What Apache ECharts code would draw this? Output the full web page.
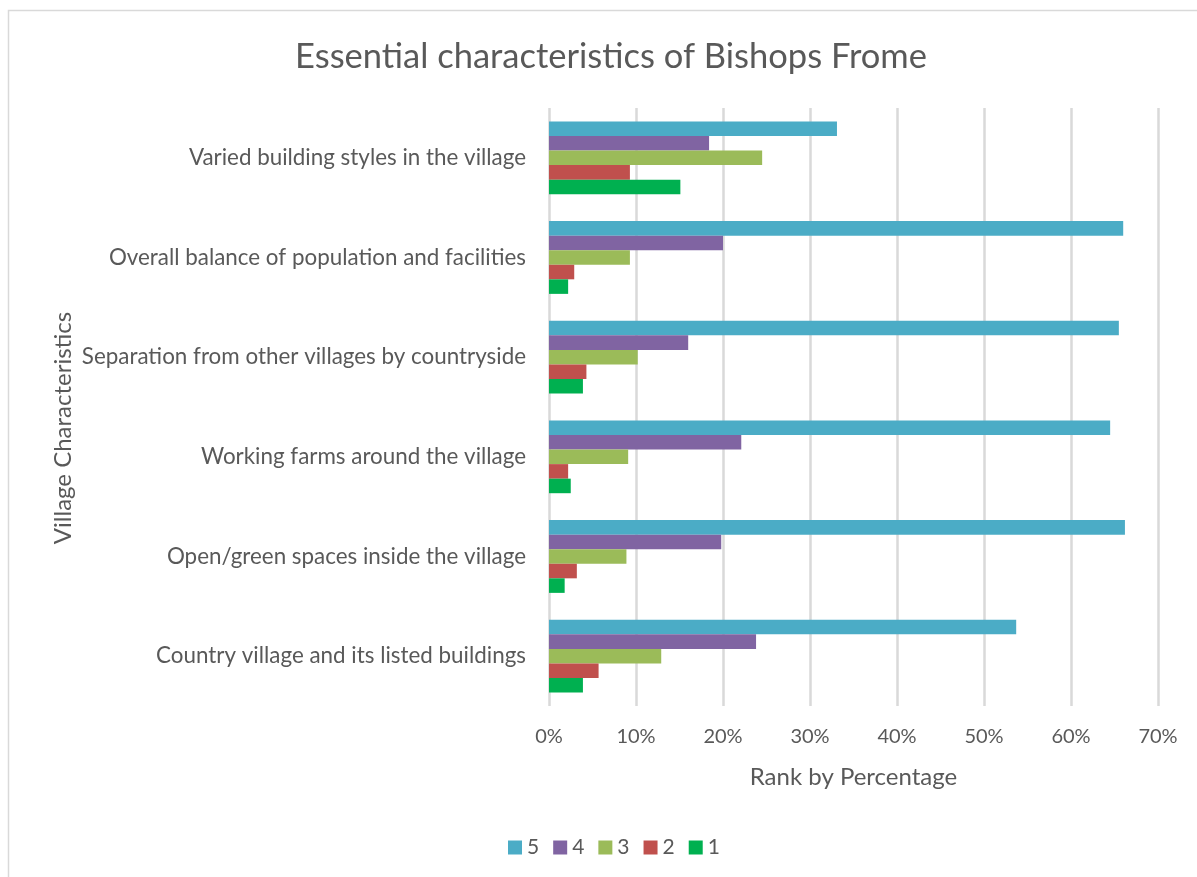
<!DOCTYPE html>
<html>
<head>
<meta charset="utf-8">
<title>Essential characteristics of Bishops Frome</title>
<script src="https://cdn.jsdelivr.net/npm/echarts@6/dist/echarts.min.js"></script>
<style>
  html, body { margin: 0; padding: 0; background: #ffffff; }
  #chart { width: 1197px; height: 877px; }
</style>
</head>
<body>
<div id="chart"></div>
<script>
// Village characteristics, listed bottom to top on the category axis
const categories = [
  'Country village and its listed buildings',
  'Open/green spaces inside the village',
  'Working farms around the village',
  'Separation from other villages by countryside',
  'Overall balance of population and facilities',
  'Varied building styles in the village'
];

// Share of responses (%) for each rank
const rank5 = [53.7, 66.2, 64.5, 65.5, 66.0, 33.1];
const rank4 = [23.8, 19.8, 22.1, 16.0, 20.0, 18.4];
const rank3 = [12.9, 8.9, 9.1, 10.2, 9.3, 24.5];
const rank2 = [5.7, 3.2, 2.2, 4.3, 2.9, 9.3];
const rank1 = [3.9, 1.8, 2.5, 3.9, 2.2, 15.1];

const legendOrder = ['5', '4', '3', '2', '1'];

const FONT = 'Lato, "Open Sans", "Noto Sans", sans-serif';
const TEXT = '#595959';

const chart = echarts.init(document.getElementById('chart'), null, { renderer: 'canvas' });

function rankSeries(name, data, color) {
  return {
    name: name,
    type: 'bar',
    data: data,
    barGap: '0%',
    barCategoryGap: '27%',
    itemStyle: { color: color },
    emphasis: { disabled: true }
  };
}

chart.setOption({
  animation: false,
  backgroundColor: '#ffffff',
  textStyle: { fontFamily: FONT, color: TEXT },
  title: {
    text: 'Essential characteristics of Bishops Frome',
    left: 606,
    textAlign: 'center',
    top: 34,
    textStyle: { fontFamily: FONT, fontSize: 34.5, fontWeight: 'normal', color: TEXT }
  },
  legend: {
    data: legendOrder,
    top: 832,
    left: 503,
    itemWidth: 14,
    itemHeight: 14,
    itemGap: 14,
    icon: 'rect',
    textStyle: { fontFamily: FONT, fontSize: 21, color: TEXT }
  },
  grid: { left: 549, right: 39, top: 108, bottom: 171, containLabel: false },
  xAxis: {
    type: 'value',
    min: 0,
    max: 70,
    interval: 10,
    axisLabel: { formatter: '{value}%', fontFamily: FONT, fontSize: 20, color: TEXT, margin: 21 },
    axisLine: { show: false },
    axisTick: { show: false },
    splitLine: { show: true, lineStyle: { color: '#d9d9d9', width: 2.5 } },
    name: 'Rank by Percentage',
    nameLocation: 'middle',
    nameGap: 59,
    nameTextStyle: { fontFamily: FONT, fontSize: 24, color: TEXT }
  },
  yAxis: {
    type: 'category',
    data: categories,
    axisLine: { show: false },
    axisTick: { show: false },
    axisLabel: { fontFamily: FONT, fontSize: 22.4, color: TEXT, margin: 23 }
  },
  graphic: [
    {
      type: 'rect',
      silent: true,
      shape: { x: 8.5, y: 10.5, width: 1400, height: 1100 },
      style: { fill: 'none', stroke: '#d9d9d9', lineWidth: 1.5 }
    },
    {
      type: 'text',
      silent: true,
      x: 63,
      y: 428,
      rotation: Math.PI / 2,
      style: {
        text: 'Village Characteristics',
        fontFamily: FONT,
        fontSize: 24,
        fill: TEXT,
        align: 'center',
        verticalAlign: 'middle'
      }
    }
  ],
  // Rank 5 is drawn first so it sits at the top of each group
  series: [
    rankSeries('5', rank5, '#4BACC6'),
    rankSeries('4', rank4, '#8064A2'),
    rankSeries('3', rank3, '#9BBB59'),
    rankSeries('2', rank2, '#C0504D'),
    rankSeries('1', rank1, '#00B050')
  ]
});
</script>
</body>
</html>
